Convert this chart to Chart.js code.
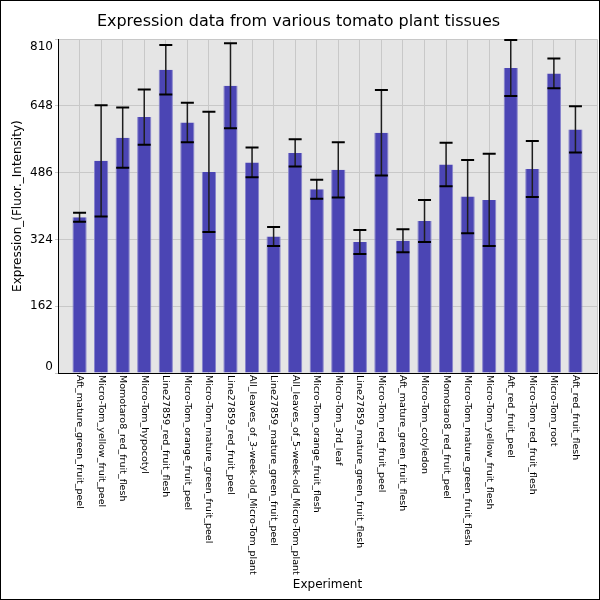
<!DOCTYPE html>
<html>
<head>
<meta charset="utf-8">
<script src="https://cdn.jsdelivr.net/npm/chart.js@4.4.1/dist/chart.umd.min.js"></script>
<style>
  body { margin: 0; background: #fff; }
  #wrap { width: 600px; height: 600px; }
</style>
</head>
<body>
<div id="wrap"><canvas id="myBar" width="600" height="600"></canvas></div>
<script>
var experiments = [
	'Aft_mature_green_fruit_peel',
	'Micro-Tom_yellow_fruit_peel',
	'Momotaro8_red_fruit_flesh',
	'Micro-Tom_hypocotyl',
	'Line27859_red_fruit_flesh',
	'Micro-Tom_orange_fruit_peel',
	'Micro-Tom_mature_green_fruit_peel',
	'Line27859_red_fruit_peel',
	'All_leaves_of_3-week-old_Micro-Tom_plant',
	'Line27859_mature_green_fruit_peel',
	'All_leaves_of_5-week-old_Micro-Tom_plant',
	'Micro-Tom_orange_fruit_flesh',
	'Micro-Tom_3rd_leaf',
	'Line27859_mature_green_fruit_flesh',
	'Micro-Tom_red_fruit_peel',
	'Aft_mature_green_fruit_flesh',
	'Micro-Tom_cotyledon',
	'Momotaro8_red_fruit_peel',
	'Micro-Tom_mature_green_fruit_flesh',
	'Micro-Tom_yellow_fruit_flesh',
	'Aft_red_fruit_peel',
	'Micro-Tom_red_fruit_flesh',
	'Micro-Tom_root',
	'Aft_red_fruit_flesh'
];

// mean expression per tissue
var expression = [378, 515, 571, 621, 736, 608, 488, 697, 511, 331, 534, 446,
	493, 318, 583, 321, 369, 506, 428, 420, 740, 495, 727, 591];

// error bar half-length
var errors = [11, 135, 73, 67, 60, 48, 146, 103, 36, 23, 33, 23,
	67, 29, 104, 28, 51, 53, 89, 112, 68, 68, 36, 56];

var yTicks = [0, 162, 324, 486, 648, 810];

var FONT = 'DejaVu Sans';

var extras = {
	id: 'extras',
	beforeDraw: function(chart) {
		var a = chart.chartArea, ctx = chart.ctx;
		ctx.save();
		ctx.fillStyle = '#e5e5e5';
		ctx.fillRect(a.left, a.top, a.right - a.left, a.bottom - a.top);
		ctx.restore();
	},
	afterDatasetsDraw: function(chart) {
		var ctx = chart.ctx, y = chart.scales.y;
		var bars = chart.getDatasetMeta(0).data;
		ctx.save();
		for (var i = 0; i < bars.length; i++) {
			var px = bars[i].x;
			var hi = y.getPixelForValue(expression[i] + errors[i]);
			var lo = y.getPixelForValue(expression[i] - errors[i]);
			ctx.strokeStyle = '#1e1e1e';
			ctx.lineWidth = 1.5;
			ctx.beginPath();
			ctx.moveTo(px, hi);
			ctx.lineTo(px, lo);
			ctx.stroke();
			ctx.strokeStyle = '#000';
			ctx.lineWidth = 2;
			ctx.beginPath();
			ctx.moveTo(px - 6.5, hi); ctx.lineTo(px + 6.5, hi);
			ctx.moveTo(px - 6.5, lo); ctx.lineTo(px + 6.5, lo);
			ctx.stroke();
		}
		ctx.restore();
	},
	afterDraw: function(chart) {
		var ctx = chart.ctx, a = chart.chartArea;
		var x = chart.scales.x, y = chart.scales.y;
		ctx.save();
		ctx.fillStyle = '#000';

		// y tick labels, end labels kept inside the plot
		ctx.font = '12px ' + FONT;
		ctx.textAlign = 'right';
		ctx.textBaseline = 'middle';
		yTicks.forEach(function(v) {
			var py = y.getPixelForValue(v);
			py = Math.min(Math.max(py, a.top + 8), a.bottom - 6);
			ctx.fillText(String(v), a.left - 5, py);
		});

		// x labels, rotated clockwise, reading downwards
		ctx.font = '9.5px ' + FONT;
		ctx.textAlign = 'left';
		experiments.forEach(function(lbl, i) {
			ctx.save();
			ctx.translate(x.getPixelForValue(i), a.bottom + 2);
			ctx.rotate(Math.PI / 2);
			ctx.fillText(lbl, 0, 0);
			ctx.restore();
		});

		// frame around the picture
		ctx.strokeStyle = '#000';
		ctx.lineWidth = 1;
		ctx.strokeRect(0.5, 0.5, 599, 599);
		ctx.restore();
	}
};

var config = {
	type: 'bar',
	data: {
		datasets: [{
			label: 'Expression',
			data: expression.map(function(v, i) { return { x: i, y: v }; }),
			backgroundColor: '#4b45b4',
			borderColor: '#8884cc',
			borderWidth: { left: 1, right: 1, top: 0, bottom: 0 },
			barPercentage: 0.66,
			categoryPercentage: 1
		}]
	},
	options: {
		responsive: false,
		devicePixelRatio: 1,
		animation: false,
		layout: { padding: { left: 0, right: 3, top: 0, bottom: 0 } },
		plugins: {
			legend: { display: false },
			tooltip: { enabled: false },
			title: {
				display: true,
				text: 'Expression data from various tomato plant tissues',
				font: { family: FONT, size: 16, weight: 'normal' },
				color: '#000',
				padding: { top: 12, bottom: 8 }
			}
		},
		scales: {
			x: {
				type: 'linear',
				min: -1,
				max: 24,
				offset: false,
				ticks: { display: false, stepSize: 1 },
				grid: { color: '#c8c8c8', drawTicks: false, offset: false },
				border: { color: '#000', width: 1 },
				title: {
					display: true,
					text: 'Experiment',
					font: { family: FONT, size: 12 },
					color: '#000',
					padding: { top: 0, bottom: 8 }
				},
				afterFit: function(scale) { scale.height = 227; }
			},
			y: {
				min: 0,
				max: 810,
				ticks: { display: false, stepSize: 162 },
				grid: { color: '#c8c8c8', tickLength: 3 },
				border: { color: '#000', width: 1 },
				title: {
					display: true,
					text: 'Expression_(Fluor._Intensity)',
					font: { family: FONT, size: 12 },
					color: '#000',
					padding: { top: 11, bottom: 0 }
				},
				afterFit: function(scale) { scale.width = 58; }
			}
		}
	},
	plugins: [extras]
};

var myBar = new Chart(document.getElementById('myBar'), config);
</script>
</body>
</html>
